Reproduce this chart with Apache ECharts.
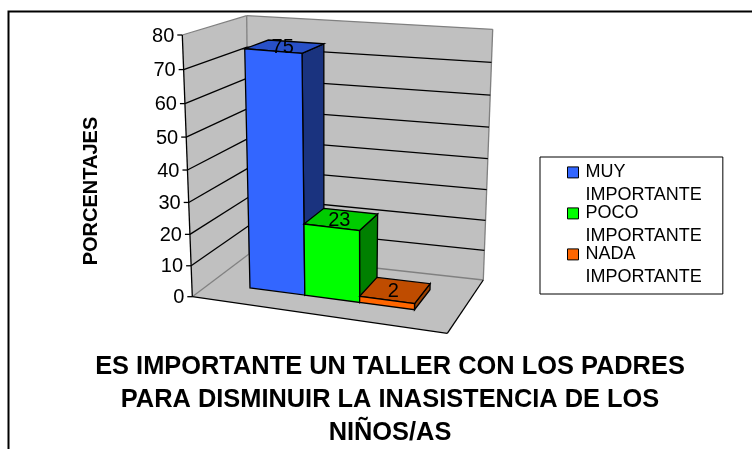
<!DOCTYPE html>
<html>
<head>
<meta charset="utf-8">
<title>Taller con los padres</title>
<script src="https://cdn.jsdelivr.net/npm/echarts@6/dist/echarts.min.js"></script>
<style>
  html, body { margin: 0; padding: 0; background: #fff; }
  #chart { width: 752px; height: 449px; }
</style>
</head>
<body>
<div id="chart"></div>
<script>
const seriesNames = ['MUY\nIMPORTANTE', 'POCO\nIMPORTANTE', 'NADA\nIMPORTANTE']
const seriesValues = [75, 23, 2]
const tickValues = [0, 10, 20, 30, 40, 50, 60, 70, 80]
const frontColors = ['#3366FF', '#00FF00', '#FF6600']
const topColors = ['#2850C8', '#00CC00', '#BF4C00']
const sideColors = ['#1A337F', '#008000', '#994000']
const yTitle = 'PORCENTAJES'
const chartTitle = 'ES IMPORTANTE UN TALLER CON LOS PADRES\nPARA DISMINUIR LA INASISTENCIA DE LOS\nNIÑOS/AS'

// the plain grid the scales live on, bent afterwards into the 3d box
const GRID = { left: 192, top: 35, width: 255, height: 262 }
const BOX = {
  fb: [192.3, 296.7], // front left, floor
  fr: [447.3, 333.3], // front right, floor
  bb: [249, 254], // back left, floor
  br: [483.3, 280], // back right, floor
  ft: [182.3, 35],
  frt: [449, 58],
  bt: [246.7, 15.7],
  brt: [492.7, 29.3]
}
const BAR_START = 0.157
const BAR_WIDTH = 0.221
const BAR_FRONT = 0.33
const BAR_BACK = 0.72
const BEND = 1.066 // heights get squeezed a bit towards the floor
const FONT = '"Liberation Sans", Arial, sans-serif'

function mix (a, b, t) {
  return [a[0] + (b[0] - a[0]) * t, a[1] + (b[1] - a[1]) * t]
}

// x axis value u, y axis value val, depth w (0 front, 1 back)
function project (api, u, val, w) {
  const p = api.coord([u, val])
  const nu = (p[0] - GRID.left) / GRID.width
  const nv = (GRID.top + GRID.height - p[1]) / GRID.height
  const bent = nv / (nv + (1 - nv) * BEND)
  const floor = mix(mix(BOX.fb, BOX.fr, nu), mix(BOX.bb, BOX.br, nu), w)
  const ceil = mix(mix(BOX.ft, BOX.frt, nu), mix(BOX.bt, BOX.brt, nu), w)
  return mix(floor, ceil, bent)
}

function poly (points, fill, stroke) {
  return {
    type: 'polygon',
    shape: { points: points },
    style: { fill: fill, stroke: stroke || 'none', lineWidth: 1.3 }
  }
}

function line (a, b, color, width) {
  return {
    type: 'line',
    shape: { x1: a[0], y1: a[1], x2: b[0], y2: b[1] },
    style: { stroke: color, lineWidth: width || 1.3 }
  }
}

function renderBox (params, api) {
  const top = tickValues[tickValues.length - 1]
  const P = (u, v, w) => project(api, u, v, w)
  const wall = '#C0C0C0'
  const edge = '#808080'
  const children = [
    poly([P(0, 0, 0), P(0, top, 0), P(0, top, 1), P(0, 0, 1)], wall),
    poly([P(0, 0, 1), P(0, top, 1), P(1, top, 1), P(1, 0, 1)], wall),
    poly([P(0, 0, 0), P(0, 0, 1), P(1, 0, 1), P(1, 0, 0)], wall),
    line(P(0, top, 0), P(0, top, 1), edge),
    line(P(0, top, 1), P(1, top, 1), edge),
    line(P(1, top, 1), P(1, 0, 1), edge),
    line(P(0, top, 1), P(0, 0, 1), edge),
    line(P(0, 0, 0), P(0, 0, 1), edge),
    line(P(0, 0, 1), P(1, 0, 1), edge)
  ]
  tickValues.forEach(t => {
    if (t > 0 && t < top) {
      children.push(line(P(0, t, 0), P(0, t, 1), '#000'))
      children.push(line(P(0, t, 1), P(1, t, 1), '#000'))
    }
    const a = P(0, t, 0)
    children.push(line([a[0] - 5, a[1]], a, '#000'))
    children.push({
      type: 'text',
      style: {
        text: String(t),
        x: a[0] - 8,
        y: a[1] + 1,
        align: 'right',
        verticalAlign: 'middle',
        fill: '#000',
        font: '20px ' + FONT
      }
    })
  })
  children.push(line(P(0, 0, 0), P(0, top, 0), '#000'))
  children.push(line(P(0, 0, 0), P(1, 0, 0), '#000'))
  children.push(line(P(1, 0, 0), P(1, 0, 1), '#000'))
  return { type: 'group', children: children }
}

function renderBar (index) {
  return function (params, api) {
    const val = api.value(0)
    const u0 = BAR_START + BAR_WIDTH * index
    const u1 = u0 + BAR_WIDTH
    const P = (u, v, w) => project(api, u, v, w)
    const f = BAR_FRONT
    const b = BAR_BACK
    const mid = P((u0 + u1) / 2, val, (f + b) / 2)
    return {
      type: 'group',
      children: [
        poly([P(u1, 0, f), P(u1, val, f), P(u1, val, b), P(u1, 0, b)], sideColors[index], '#000'),
        poly([P(u0, val, f), P(u0, val, b), P(u1, val, b), P(u1, val, f)], topColors[index], '#000'),
        poly([P(u0, 0, f), P(u0, val, f), P(u1, val, f), P(u1, 0, f)], frontColors[index], '#000'),
        {
          type: 'text',
          style: {
            text: String(val),
            x: mid[0] - 2,
            y: mid[1] + 1,
            align: 'center',
            verticalAlign: 'middle',
            fill: '#000',
            font: '20px ' + FONT
          }
        }
      ]
    }
  }
}

const series = [{
  name: 'box',
  type: 'custom',
  silent: true,
  z: 1,
  renderItem: renderBox,
  data: [[0]]
}]
seriesNames.forEach((name, i) => {
  series.push({
    name: name,
    type: 'custom',
    silent: true,
    z: 2 + i,
    itemStyle: { color: frontColors[i] },
    renderItem: renderBar(i),
    encode: { y: 0 },
    data: [[seriesValues[i]]]
  })
})

const myChart = echarts.init(document.getElementById('chart'), null, { renderer: 'canvas' })
myChart.setOption({
  animation: false,
  grid: GRID,
  xAxis: { type: 'value', min: 0, max: 1, show: false },
  yAxis: { type: 'value', min: 0, max: 80, interval: 10, show: false },
  title: {
    text: chartTitle,
    left: 390,
    top: 350,
    textAlign: 'center',
    padding: 0,
    textStyle: {
      fontFamily: FONT,
      fontSize: 25.4,
      fontWeight: 'bold',
      lineHeight: 33,
      color: '#000'
    }
  },
  legend: {
    left: 540,
    top: 157,
    orient: 'vertical',
    data: seriesNames,
    selectedMode: false,
    backgroundColor: '#fff',
    borderColor: '#000',
    borderWidth: 1,
    padding: [3, 21, 4, 27],
    itemGap: -7,
    itemWidth: 11,
    itemHeight: 47,
    icon: 'path://M0,0L0.01,0M0,47L0.01,47M0,6.4h11v11h-11z',
    itemStyle: { borderColor: '#000', borderWidth: 1 },
    textStyle: {
      fontFamily: FONT,
      fontSize: 18,
      lineHeight: 23,
      color: '#000',
      padding: [0, 0, 0, 2]
    }
  },
  graphic: [
    {
      type: 'polyline',
      silent: true,
      shape: { points: [[8.5, 449], [8.5, 11.5], [752, 11.5]] },
      style: { fill: 'none', stroke: '#000', lineWidth: 2 }
    },
    {
      type: 'text',
      silent: true,
      x: 91,
      y: 191,
      rotation: Math.PI / 2,
      style: {
        text: yTitle,
        align: 'center',
        verticalAlign: 'middle',
        fill: '#000',
        font: 'bold 20px ' + FONT
      }
    }
  ],
  series: series
})
</script>
</body>
</html>
